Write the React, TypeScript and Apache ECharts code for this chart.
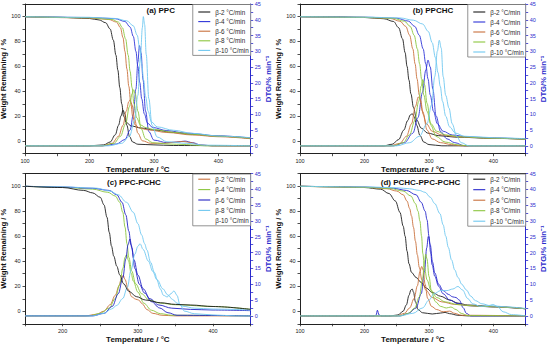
import React, { useEffect, useRef } from 'react';
import * as echarts from 'echarts';

type Pt = [number, number];

// ---------- Panel (a) PPC ----------
const tgA2: Pt[] = [[100,99.8],[150,99.4],[200,98.4],[215,97.2],[225,95],[232,90],[237,81],[241,69],[244,57],[247,43],[250,30],[253,20],[257,15],[265,12.2],[280,10.6],[300,9],[330,7],[360,5.5],[400,4],[450,2.3]];
const tgA4: Pt[] = [[100,99.8],[200,99.2],[240,98.2],[255,96],[263,91.5],[268,84],[272,72],[275,60],[278,47],[281,34],[285,22],[290,14.5],[298,11],[320,8.5],[350,6.5],[400,4.3],[450,2.6]];
const tgA6: Pt[] = [[100,99.8],[200,98.8],[230,97.6],[242,95.5],[248,91],[252,83],[255,72],[258,58],[261,44],[264,31],[267,20],[271,13],[278,10.5],[290,9.2],[320,7],[360,5],[400,3.6],[450,2]];
const tgA8: Pt[] = [[100,99.8],[200,99],[235,97.6],[245,95.5],[251,91],[256,82],[260,69],[263,56],[266,43],[269,30],[273,19],[279,13],[288,10.8],[300,9.4],[330,7.2],[360,5.6],[400,4],[450,2.4]];
const tgA10: Pt[] = [[100,99.8],[200,99.3],[240,98.4],[258,96.5],[268,92.5],[274,85],[278,74],[281,62],[284,49],[287,36],[291,24],[296,15.5],[305,11.5],[330,8.8],[360,6.3],[400,4.2],[450,2.8]];
const dtgA2: Pt[] = [[100,0],[200,0],[222,0.3],[232,1.2],[240,3.5],[245,6.5],[249,9.5],[252,11.3],[255,10],[258,6.5],[262,3],[267,1.2],[275,0.5],[300,0.3],[330,0.1],[450,0]];
const dtgA4: Pt[] = [[100,0],[220,0],[242,0.6],[255,2],[263,5],[268,10],[272,18],[275,26.5],[277.5,31.8],[280,29.5],[283,21],[287,11],[292,4.5],[300,1.8],[320,1],[335,1.2],[348,1.5],[360,1],[372,0.3],[390,0],[450,0]];
const dtgA6: Pt[] = [[100,0],[220,0],[235,0.8],[245,3],[252,6.5],[257,11],[261,14],[263,14.6],[266,13],[270,8.5],[275,4],[282,1.6],[295,0.8],[315,0.8],[330,1.1],[345,1.4],[358,1],[370,0.3],[390,0],[450,0]];
const dtgA8: Pt[] = [[100,0],[220,0],[238,0.8],[248,3],[256,7],[262,12.5],[266,16.5],[268.5,17.8],[271,16.5],[275,11],[280,5.5],[287,2.2],[298,1],[320,0.6],[350,0.4],[380,0],[450,0]];
const dtgA10: Pt[] = [[100,0],[230,0],[250,0.8],[262,3],[270,8],[275,16],[279,28],[282,37.5],[283.5,41],[285.5,38.5],[288,29],[292,15],[297,6.5],[305,2.8],[320,1.3],[350,0.8],[380,0.2],[450,0]];

// ---------- Panel (b) PPCHC ----------
const tgB2: Pt[] = [[100,99.8],[150,99.7],[200,99.2],[230,98.2],[245,96],[253,91],[259,82],[263,71],[266,60],[269,49],[272,38],[276,27],[281,17],[288,10.5],[298,6.5],[315,4.5],[340,3.3],[400,2.3],[450,1.6]];
const tgB4: Pt[] = [[100,99.8],[200,99.4],[250,98.6],[268,96.3],[278,92],[285,85],[291,74],[295,62],[298.5,50],[302,37],[307,24],[313,14],[322,8],[336,5],[360,3.5],[400,2.6],[450,1.8]];
const tgB6: Pt[] = [[100,99.8],[200,99.3],[240,98.4],[255,96.2],[264,92],[270,85],[275,74],[278.5,62],[281.5,50],[285,37],[290,24],[296,14],[305,8],[320,5],[345,3.5],[400,2.4],[450,1.6]];
const tgB8: Pt[] = [[100,99.8],[200,99.3],[245,98.5],[262,96.2],[271,92],[277,85],[282,74],[285.5,62],[288.5,50],[292,37],[297,24],[303,14],[312,8],[326,5],[350,3.5],[400,2.4],[450,1.6]];
const tgB10: Pt[] = [[100,99.8],[200,99.5],[255,98.8],[276,97],[290,94],[299,88],[305,79],[310,67],[314,55],[317.5,44],[321,32],[326,20],[332,11.5],[341,6.5],[355,4],[400,2.8],[450,2]];
const dtgB2: Pt[] = [[100,0],[230,0],[243,0.5],[253,2],[261,5],[267,8],[271,9.8],[274,10.2],[277,9.3],[281,6.5],[286,3.3],[292,1.2],[300,0.4],[320,0],[450,0]];
const dtgB4: Pt[] = [[100,0],[245,0],[262,1],[275,4],[283,9],[290,17],[295,24],[298.5,27.2],[302,25],[306,18],[311,9.5],[318,4.5],[328,2.2],[340,1],[355,0],[450,0]];
const dtgB6: Pt[] = [[100,0],[240,0],[255,0.8],[265,3],[273,7],[279,12.5],[283.5,15.5],[287,14.5],[291,10],[297,5],[305,2.2],[318,1],[335,0.4],[350,0],[450,0]];
const dtgB8: Pt[] = [[100,0],[245,0],[260,1],[270,3.5],[278,8],[284,14],[288,19],[290.5,21],[293,19.5],[297,13.5],[303,6.5],[311,3],[325,1.2],[345,0.3],[360,0],[450,0]];
const dtgB10: Pt[] = [[100,0],[250,0],[270,1],[285,3],[297,7],[304,13],[309,22],[313,30],[316,33.5],[319,31],[322,22],[326,16],[331,12],[336,7],[343,3],[350,1],[362,0],[450,0]];

// ---------- Panel (c) PPC-PCHC ----------
const tgC4: Pt[] = [[150,99.8],[200,99],[240,97.5],[260,95],[270,92],[276,87],[280,79],[283,67],[285.5,54],[288,43],[292,32],[297,22],[305,14],[315,9],[330,6.5],[350,5.2],[400,3.8],[450,1.6]];
const tgC6: Pt[] = [[150,99.8],[200,99.2],[240,98.2],[262,96.5],[272,93],[279,87],[284,77],[288,64],[291,53],[295,41],[300,29],[307,18],[316,10],[328,5],[345,2.5],[370,1.5],[400,1],[450,0.5]];
const tgC8: Pt[] = [[150,99.8],[200,99.3],[245,98.3],[263,96],[274,93],[285,87],[294,79],[300,70],[305,61],[309,54],[312,49],[317,39],[322,31],[326,25],[333,18],[340,13],[346,9.5],[352,6.5],[360,4],[375,2.5],[400,1.8],[450,1]];
const tgC10: Pt[] = [[150,99.8],[200,98.8],[228,96.5],[240,94.5],[250,91],[255,85],[259,75],[262,63],[265,52],[268,44],[272,36],[276,29],[281,22],[288,16],[298,11.7],[310,9],[330,6.8],[350,5.5],[370,5],[400,3.8],[450,1.5]];
const dtgC2: Pt[] = [[150,0],[230,0],[245,0.5],[255,1.5],[263,3.5],[270,6.5],[275,9.5],[278,11.8],[280.5,12.8],[283,11.5],[287,8.5],[292,6],[297,5.3],[301,5],[306,3.8],[312,2],[320,0.8],[332,0.2],[350,0],[450,0]];
const dtgC4: Pt[] = [[150,0],[235,0],[250,0.8],[262,2.5],[270,5.5],[276,10],[280,15],[283,18.5],[285,19.4],[287.5,17.5],[291,13.5],[294,11],[300,7.5],[308,4],[318,1.8],[330,0.7],[345,0.2],[450,0]];
const dtgC6: Pt[] = [[150,0],[240,0],[255,0.8],[266,3],[274,7],[280,12],[284,18],[287,22.5],[289.5,24.3],[292,21.5],[296,15],[302,10],[309,7.2],[318,4.5],[329,2.5],[340,1],[352,0.2],[450,0]];
const dtgC8: Pt[] = [[150,0],[240,0],[255,0.8],[265,2.2],[272,3.3],[280,5.5],[286,9],[291,14.5],[296,19.5],[300,22],[303,22.8],[307,21],[314,17.3],[320,14],[325,11.5],[330,8.5],[334,6.5],[339,6],[344,7],[348,7.9],[352,6.5],[356,3.5],[362,1.5],[375,0.7],[400,0.3],[430,0],[450,0]];

// ---------- Panel (d) PCHC-PPC-PCHC ----------
const tgD2: Pt[] = [[100,99.8],[150,99.5],[200,98.8],[225,97.5],[238,94],[248,88],[255,79],[260,68],[263,60],[266,48],[269,38],[273,31],[280,27],[288,23],[296,18.5],[305,15],[318,12],[332,9],[345,6.5],[360,5],[400,3.8],[450,2]];
const tgD4: Pt[] = [[100,99.8],[200,99.2],[245,98.2],[265,96.5],[280,93],[288,87],[294,80],[297,73],[300,60],[302.5,47],[305,37],[309,28],[315,20],[322,14],[332,9],[345,6],[360,4.5],[400,3.4],[450,2]];
const tgD6: Pt[] = [[100,99.8],[200,99],[235,97.8],[250,96],[260,93],[266,88],[270,82],[273,76],[276,67],[279,56],[282,45],[285,35],[289,25],[295,17],[305,11],[320,7.5],[340,5.5],[370,4.3],[400,3.5],[450,2]];
const tgD8: Pt[] = [[100,99.8],[200,99],[240,98],[260,96],[272,92],[279,86],[283,80],[286,72],[288.5,60],[290.5,46],[293,35],[297,25],[303,17],[312,11],[325,7.5],[345,5.3],[370,4.3],[400,3.5],[450,2]];
const tgD10: Pt[] = [[100,99.8],[200,99.3],[250,98.6],[270,97.8],[285,96.5],[294,95],[302,91],[309,86],[317,78],[322,69],[326,60],[330,51],[335,41],[340,33],[345,27],[351,21.5],[358,17],[365,12],[372,8.5],[382,6],[395,4.5],[420,3.5],[450,2.2]];
const dtgD2: Pt[] = [[100,0],[240,0],[252,0.3],[260,1.5],[265,3.5],[269,6.5],[272,8.2],[274,8.5],[276,7.5],[279,4.5],[283,2],[290,1],[305,0.6],[318,0.9],[325,1.1],[332,0.7],[345,0.2],[360,0],[450,0]];
const dtgD4: Pt[] = [[100,0],[214,0],[218,0.2],[220,1.8],[222.5,0.3],[226,0],[255,0],[268,0.8],[280,2.5],[288,7],[293,14],[296.5,21.5],[299,25.1],[302,22.5],[305.5,17],[309,13.6],[315,10],[322,8],[330,6.8],[337,6],[342,5.8],[347,5],[353,2.6],[358,0.8],[365,0],[450,0]];
const dtgD6: Pt[] = [[100,0],[250,0],[262,0.8],[270,2.5],[277,5.5],[282,9.5],[286,14],[288.7,15.6],[291,14.5],[294,10],[298,5.5],[304,3],[312,2],[322,1.3],[332,1.5],[340,0.8],[350,0.2],[450,0]];
const dtgD8: Pt[] = [[100,0],[255,0],[268,0.8],[278,2.5],[285,6],[290,11.5],[293,17],[295,19.5],[297,18],[300,12.5],[304,7.5],[310,4.5],[318,3],[327,2.5],[334,2.8],[342,2],[350,0.8],[360,0.1],[450,0]];
const dtgD10: Pt[] = [[100,0],[255,0],[275,0.8],[290,2.5],[300,5],[308,7],[318,8],[328,8],[337,8.5],[345,9.3],[352,8.2],[360,5.5],[368,3.8],[380,3],[392,3.2],[399,3.6],[406,3],[415,1.3],[428,0.4],[450,0]];

// ---------- labels ----------
const rateLabels = ['β-2 °C/min', 'β-4 °C/min', 'β-6 °C/min', 'β-8 °C/min', 'β-10 °C/min'];
const panelTitles = ['(a) PPC', '(b) PPCHC', '(c) PPC-PCHC', '(d) PCHC-PPC-PCHC'];
const xMins = [100, 100, 150, 100];
const xMax = 450;
const xTickLabels = [100, 200, 300, 400];
const wTickLabels = [0, 20, 40, 60, 80, 100];

const BLACK = '#1c1c1c';
const BLUE = '#2e34d8';
const BROWN = '#c9703c';
const GREEN = '#8cc63f';
const CYAN = '#70c8f0';
const AXBLUE = '#2a2acc';
const FONT = '"Liberation Sans", Arial, sans-serif';

type Entry = { color: string; tg: Pt[] | null; dtg: Pt[] | null; hideIcon?: boolean };

const panelEntries: Entry[][] = [
  [
    { color: BLACK, tg: tgA2, dtg: dtgA2 },
    { color: BLUE, tg: tgA4, dtg: dtgA4 },
    { color: BROWN, tg: tgA6, dtg: dtgA6 },
    { color: GREEN, tg: tgA8, dtg: dtgA8 },
    { color: CYAN, tg: tgA10, dtg: dtgA10 },
  ],
  [
    { color: BLACK, tg: tgB2, dtg: dtgB2 },
    { color: BLUE, tg: tgB4, dtg: dtgB4 },
    { color: BROWN, tg: tgB6, dtg: dtgB6 },
    { color: GREEN, tg: tgB8, dtg: dtgB8 },
    { color: CYAN, tg: tgB10, dtg: dtgB10 },
  ],
  [
    { color: BROWN, tg: null, dtg: dtgC2 },
    { color: GREEN, tg: tgC4, dtg: dtgC4 },
    { color: '#2323c4', tg: tgC6, dtg: dtgC6 },
    { color: CYAN, tg: tgC8, dtg: dtgC8 },
    { color: BLACK, tg: tgC10, dtg: null, hideIcon: true },
  ],
  [
    { color: BLACK, tg: tgD2, dtg: dtgD2 },
    { color: '#2626cc', tg: tgD4, dtg: dtgD4 },
    { color: BROWN, tg: tgD6, dtg: dtgD6 },
    { color: GREEN, tg: tgD8, dtg: dtgD8 },
    { color: CYAN, tg: tgD10, dtg: dtgD10 },
  ],
];

const GEO = [
  { left: 25, top: 4, width: 225.7, height: 149.7 },
  { left: 300, top: 4, width: 225.7, height: 149.7 },
  { left: 25, top: 173.5, width: 225.7, height: 150.3 },
  { left: 300, top: 173.5, width: 225.7, height: 150.3 },
];
const TITLE_POS = [
  [160.7, 10.7],
  [433, 10.7],
  [134, 182.7],
  [420.5, 182.5],
];
const LEGEND_GAP = [2.6, 3, 3.4, 3.5];
const LEGEND_PAD_TOP = [4, 4, 1.7, 1.7];

function buildOption() {
  const keys = ['a', 'b', 'c', 'd'];
  const grid: any[] = [];
  const xAxis: any[] = [];
  const yAxis: any[] = [];
  const series: any[] = [];
  const legend: any[] = [];
  const graphic: any[] = [];

  GEO.forEach((g, i) => {
    grid.push({ left: g.left, top: g.top, width: g.width, height: g.height, containLabel: false, outerBoundsMode: 'none' });
  });

  GEO.forEach((g, i) => {
    xAxis.push({
      type: 'value', gridIndex: i, position: 'bottom', min: xMins[i], max: xMax, interval: 50,
      name: 'Temperature / °C', nameLocation: 'middle', nameGap: 8.5,
      nameTextStyle: { fontSize: 8, fontWeight: 'bold', color: '#111', fontFamily: FONT },
      axisLine: { show: true, onZero: false, lineStyle: { color: '#222', width: 1 } },
      axisTick: { show: true, length: 2.5, lineStyle: { color: '#222', width: 0.8 } },
      axisLabel: {
        fontSize: 5.5, color: '#222', margin: 4.5, fontFamily: FONT,
        formatter: (v: number) => (xTickLabels.includes(v) ? String(v) : ''),
      },
      splitLine: { show: false },
    });
  });
  GEO.forEach((g, i) => {
    xAxis.push({
      type: 'value', gridIndex: i, position: 'top', min: xMins[i], max: xMax,
      axisLine: { show: true, onZero: false, lineStyle: { color: '#222', width: 1 } },
      axisTick: { show: false }, axisLabel: { show: false }, splitLine: { show: false },
    });
  });

  GEO.forEach((g, i) => {
    yAxis.push({
      type: 'value', gridIndex: i, position: 'left', min: -10, max: 110, interval: 10,
      name: 'Weight Remaining / %', nameLocation: 'middle', nameGap: 15.5,
      nameTextStyle: { fontSize: 7.7, fontWeight: 'bold', color: '#111', fontFamily: FONT },
      axisLine: { show: true, onZero: false, lineStyle: { color: '#222', width: 1 } },
      axisTick: { show: true, length: 2.5, lineStyle: { color: '#222', width: 0.8 } },
      axisLabel: {
        fontSize: 5.5, color: '#222', margin: 4.5, fontFamily: FONT,
        formatter: (v: number) => (wTickLabels.includes(v) ? String(v) : ''),
      },
      splitLine: { show: false },
    });
    yAxis.push({
      type: 'value', gridIndex: i, position: 'right', min: -2.5, max: 45, interval: 2.5,
      name: 'DTG/% min⁻¹', nameLocation: 'middle', nameGap: 10.5,
      nameTextStyle: { fontSize: 7.7, fontWeight: 'bold', color: AXBLUE, fontFamily: FONT },
      axisLine: { show: true, onZero: false, lineStyle: { color: AXBLUE, width: 1 } },
      axisTick: { show: true, length: 2.5, lineStyle: { color: AXBLUE, width: 0.8 } },
      axisLabel: {
        fontSize: 5.5, color: AXBLUE, margin: 4, fontFamily: FONT,
        formatter: (v: number) => (v >= 0 && Math.abs(v % 5) < 1e-6 ? String(v) : ''),
      },
      splitLine: { show: false },
    });
  });

  panelEntries.forEach((entries, i) => {
    const k = keys[i];
    const legendData: any[] = [];
    entries.forEach((e, j) => {
      const base = `${k}|${rateLabels[j]}`;
      let named = false;
      const common = {
        type: 'line', xAxisIndex: i, symbol: 'none', showSymbol: false, smooth: 0.35,
        smoothMonotone: 'x', color: e.color, lineStyle: { color: e.color, width: 0.9 },
        emphasis: { disabled: true }, silent: true,
      };
      if (e.tg) {
        series.push({ ...common, name: base, yAxisIndex: 2 * i, data: e.tg });
        named = true;
      }
      if (e.dtg) {
        series.push({ ...common, name: named ? base + '|dtg' : base, yAxisIndex: 2 * i + 1, data: e.dtg });
      }
      legendData.push(
        e.hideIcon
          ? { name: base, itemStyle: { opacity: 0 } }
          : { name: base }
      );
    });
    const g = GEO[i];
    legend.push({
      orient: 'vertical', right: 550 - (g.left + g.width), top: g.top + 0.5,
      data: legendData, icon: 'rect', itemWidth: 12, itemHeight: 1.1, itemGap: LEGEND_GAP[i],
      padding: [LEGEND_PAD_TOP[i], 2, 1.5, 5.5],
      borderColor: '#777', borderWidth: 0.8, backgroundColor: '#fff',
      selectedMode: false,
      textStyle: { fontSize: 6.3, color: '#2a2a2a', lineHeight: 7, fontFamily: FONT },
      formatter: (name: string) => name.split('|')[1],
    });
    graphic.push({
      type: 'text', x: TITLE_POS[i][0], y: TITLE_POS[i][1], silent: true,
      style: {
        text: panelTitles[i], fill: '#111', font: `bold 8px ${FONT}`,
        textAlign: 'center', textVerticalAlign: 'middle',
      },
    });
  });

  return {
    animation: false,
    backgroundColor: '#ffffff',
    textStyle: { fontFamily: FONT },
    grid, xAxis, yAxis, series, legend, graphic,
  };
}

export default function App() {
  const ref = useRef<HTMLDivElement>(null);
  useEffect(() => {
    document.body.style.margin = '0';
    const chart = echarts.init(ref.current!, undefined, { renderer: 'svg', width: 550, height: 344 });
    chart.setOption(buildOption() as any);
    return () => chart.dispose();
  }, []);
  return <div ref={ref} style={{ width: 550, height: 344, background: '#fff' }} />;
}
